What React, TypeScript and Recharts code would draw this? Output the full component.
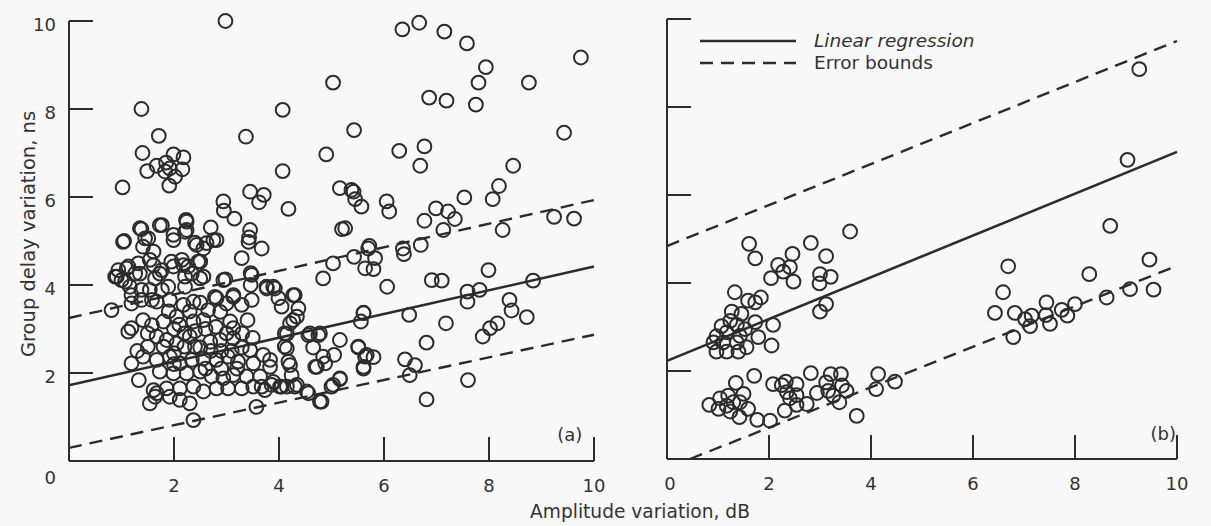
import React from "react";
import {
  ScatterChart,
  Scatter,
  XAxis,
  YAxis,
  ReferenceLine,
  ReferenceDot,
  Legend,
} from "recharts";

const FONT = '"DejaVu Sans", "Liberation Sans", Arial, sans-serif';
const INK = "#2c2c2c";
const TEXT = "#333";
const BG = "#f8f8f8";

const axisTicks = [0, 2, 4, 6, 8, 10];

// (a) all measurements: [amplitude dB, group delay ns]
const pointsA: [number, number][] = [
  [2.98, 10.0], [5.03, 8.6], [1.38, 8.0], [4.07, 7.98], [1.71, 7.39], [3.37, 7.37], [4.9, 6.97], [1.4, 7.0],
  [1.99, 6.97], [2.18, 6.9], [1.85, 6.78], [1.67, 6.71], [1.49, 6.59], [1.83, 6.58], [2.16, 6.63], [2.02, 6.46], [1.91, 6.26], [1.92, 6.65],
  [1.02, 6.22], [4.07, 6.59], [3.45, 6.12], [3.71, 6.05], [3.62, 5.88], [4.18, 5.73], [5.16, 6.2], [2.94, 5.9], [2.95, 5.69], [3.15, 5.51], [5.2, 5.27],
  [1.38, 5.27], [1.73, 5.36], [2.23, 5.48], [2.24, 5.25], [1.99, 5.14], [2.7, 5.31], [2.75, 5.02], [2.4, 4.96], [3.45, 5.25], [3.43, 5.08], [1.05, 5.0], [1.51, 5.06], [3.67, 4.83],
  [6.35, 9.81], [6.67, 9.96], [7.15, 9.76], [7.58, 9.49], [9.75, 9.17], [7.94, 8.95], [7.8, 8.6], [8.76, 8.6], [6.86, 8.26], [7.19, 8.19], [7.75, 8.1],
  [5.43, 7.52], [9.43, 7.46], [6.29, 7.05], [6.77, 7.15], [6.69, 6.71], [8.46, 6.71],
  [5.38, 6.16], [5.45, 5.95], [5.57, 5.78], [6.05, 5.9], [6.1, 5.67], [8.19, 6.25], [8.07, 5.95], [7.53, 5.99], [6.99, 5.74], [7.22, 5.67], [7.35, 5.5],
  [6.77, 5.46], [7.13, 5.25], [8.26, 5.25], [9.24, 5.55], [9.62, 5.51], [5.72, 4.89], [6.7, 4.91], [6.36, 4.83],
  [5.03, 4.49], [5.43, 4.64], [5.83, 4.61], [5.64, 4.38], [5.8, 4.36], [6.38, 4.7], [6.06, 3.96], [6.91, 4.11], [7.1, 4.1], [7.99, 4.34], [8.84, 4.1],
  [7.59, 3.85], [7.59, 3.62], [7.82, 3.89], [8.39, 3.66], [8.43, 3.42], [8.72, 3.27], [7.88, 2.83], [8.02, 3.02], [8.16, 3.13], [6.48, 3.32], [7.18, 3.13],
  [5.61, 3.37], [5.56, 3.17], [6.81, 2.69], [5.16, 2.75], [5.51, 2.58], [5.67, 2.41], [5.8, 2.36], [5.61, 2.14], [5.05, 2.41], [6.4, 2.31], [6.59, 2.18],
  [6.49, 1.95], [7.6, 1.84], [6.81, 1.4], [5.16, 1.86], [5.03, 1.73],
  [4.84, 4.15], [4.3, 3.77], [4.37, 3.47], [4.27, 3.2], [4.15, 2.89], [4.15, 2.56], [4.56, 2.86], [4.75, 2.86], [4.65, 2.58], [4.84, 2.37], [4.72, 2.14],
  [4.21, 2.18], [4.81, 1.35], [4.56, 1.54], [4.3, 1.69], [4.15, 1.69], [3.57, 1.23], [2.37, 0.93], [0.81, 3.43],
  [2.94, 4.11], [3.46, 4.27], [3.29, 4.61], [1.19, 2.22], [1.33, 1.84], [1.54, 1.31], [1.67, 1.54], [3.89, 3.96], [3.77, 3.92], [3.99, 3.7],
  [1.35, 5.29], [1.45, 5.06], [1.77, 5.36], [1.41, 4.87], [1.61, 4.76], [2.24, 5.44], [2.21, 5.21],
  [0.94, 4.34], [0.91, 4.19], [1.13, 4.42], [1.26, 4.26], [1.07, 4.08], [1.32, 4.49], [1.54, 4.57], [1.77, 4.34], [1.95, 4.53], [2.15, 4.57],
  [1.64, 4.15], [1.89, 3.96], [1.38, 3.89], [1.19, 3.77], [1.58, 3.66], [2.21, 4.19], [2.27, 4.42],
  [2.43, 4.91], [2.56, 4.83], [2.46, 4.53], [2.56, 4.19], [2.98, 4.13], [3.48, 4.23], [3.46, 4.0], [3.76, 3.96], [3.92, 3.92], [4.27, 3.77],
  [3.48, 3.66], [3.13, 3.73], [2.78, 3.73], [3.0, 3.58],
  [5.42, 6.12], [5.26, 5.29], [5.7, 4.83], [5.61, 3.36], [4.59, 2.9], [4.78, 2.9], [4.88, 2.22], [4.69, 2.14], [5.51, 2.6], [5.64, 2.37], [5.61, 2.1],
  [5.0, 1.69], [4.53, 1.58], [4.78, 1.35], [5.16, 1.88],
  [1.03, 4.98], [1.99, 5.02], [2.62, 4.95], [2.81, 5.02], [3.42, 4.98],
  [0.88, 4.19], [1.1, 4.38], [1.0, 4.11], [1.35, 4.26], [1.61, 4.45], [1.73, 4.26], [1.99, 4.42], [2.18, 4.45], [2.34, 4.26], [2.5, 4.53], [2.21, 3.96],
  [2.5, 4.15], [1.16, 3.96], [1.54, 3.89], [1.77, 3.89],
  [1.19, 3.58], [1.38, 3.66], [1.67, 3.62], [1.92, 3.66], [2.18, 3.55], [2.37, 3.62], [2.81, 3.7], [3.13, 3.77], [3.29, 3.55], [2.65, 3.43], [2.88, 3.39],
  [1.41, 3.2], [1.19, 3.02], [1.13, 2.94], [1.58, 3.09], [1.8, 3.17], [2.05, 3.28], [2.37, 3.17], [2.56, 3.2], [3.07, 3.17], [3.13, 3.02],
  [1.67, 2.83], [1.86, 2.75], [2.05, 2.67], [2.3, 2.83], [2.5, 2.58], [2.69, 2.71], [2.88, 2.75], [3.13, 2.79], [3.29, 2.58], [3.45, 2.52], [3.7, 2.41],
  [1.41, 2.37], [1.67, 2.3], [1.92, 2.37], [2.11, 2.22], [2.34, 2.3], [2.56, 2.33], [2.81, 2.3], [3.03, 2.37], [3.22, 2.26], [3.51, 2.22], [3.83, 2.14],
  [1.73, 2.03], [1.99, 1.99], [2.24, 1.99], [2.5, 2.03], [2.72, 1.92], [2.94, 1.88], [3.13, 1.95], [3.38, 1.92], [3.64, 1.92], [3.89, 1.8], [4.05, 1.69],
  [1.61, 1.61], [1.86, 1.65], [2.11, 1.65], [2.37, 1.69], [2.56, 1.58], [2.81, 1.65], [3.03, 1.65], [3.29, 1.65], [3.51, 1.69], [3.73, 1.61],
  [1.92, 1.46], [2.11, 1.39], [2.3, 1.31], [1.64, 1.46],
  [4.11, 2.9], [4.11, 2.6], [4.05, 3.51], [4.34, 3.28], [4.21, 3.13], [4.18, 2.26], [4.24, 1.95], [4.34, 1.73], [3.83, 2.3], [3.86, 1.73], [3.67, 1.69], [4.02, 1.69],
  [2.0, 3.0], [2.2, 2.9], [2.4, 2.95], [2.6, 3.0], [2.8, 3.05], [3.0, 2.9], [2.3, 3.4], [2.5, 3.6], [1.9, 3.4], [2.1, 3.1], [2.7, 2.5], [2.9, 2.5],
  [3.1, 2.5], [2.4, 2.6], [2.2, 2.6], [2.0, 2.45], [3.3, 2.9], [3.5, 2.8], [3.4, 3.2], [2.6, 2.1], [2.9, 2.1], [3.2, 2.1], [2.0, 2.2], [1.8, 2.6],
  [1.5, 2.6], [1.5, 2.9], [1.3, 2.5],
];

// (b) subset
const pointsB: [number, number][] = [
  [1.61, 4.89], [1.73, 4.56], [2.82, 4.91], [2.46, 4.66], [3.12, 4.61], [2.41, 4.36], [2.18, 4.41], [2.28, 4.26], [2.04, 4.11], [2.48, 4.03], [3.0, 4.2],
  [3.21, 4.14], [2.99, 3.99], [3.12, 3.52], [3.0, 3.35], [1.33, 3.79], [1.59, 3.6], [1.84, 3.67], [1.73, 3.56], [2.08, 3.05], [2.05, 2.58], [1.27, 3.35],
  [1.46, 3.3], [1.73, 3.11], [1.07, 3.02], [1.24, 3.14], [1.37, 3.05], [1.53, 2.95], [0.97, 2.79], [1.17, 2.88], [1.43, 2.8], [1.79, 2.77], [0.91, 2.65],
  [1.1, 2.65], [1.37, 2.65], [1.56, 2.54], [0.97, 2.44], [1.17, 2.44], [1.4, 2.44],
  [6.69, 4.38], [6.59, 3.79], [6.43, 3.32], [6.82, 3.32], [6.79, 2.77], [7.02, 3.18], [7.15, 3.26], [7.12, 3.02], [7.44, 3.56], [7.43, 3.27], [7.51, 3.07],
  [7.74, 3.39], [7.85, 3.26], [8.0, 3.52], [8.28, 4.2], [8.62, 3.67], [9.08, 3.86], [9.46, 4.53], [9.54, 3.85],
  [9.26, 8.86], [9.03, 6.8], [8.69, 5.3], [3.59, 5.17],
  [1.71, 1.89], [1.35, 1.73], [0.83, 1.23], [1.04, 1.38], [1.2, 1.44], [1.01, 1.14], [1.17, 1.21], [1.3, 1.29], [1.5, 1.48], [1.43, 1.29], [1.59, 1.14],
  [1.24, 1.08], [1.42, 0.95], [1.77, 0.89], [2.02, 0.87], [2.08, 1.7], [2.25, 1.68], [2.33, 1.76], [2.54, 1.7], [2.35, 1.52], [2.54, 1.45], [2.41, 1.38],
  [2.74, 1.25], [2.54, 1.23], [2.31, 1.1], [2.82, 1.95], [3.12, 1.74], [3.21, 1.93], [3.41, 1.93], [2.94, 1.5], [3.16, 1.55], [3.43, 1.67], [3.52, 1.55],
  [3.26, 1.44], [3.38, 1.29], [3.72, 0.98], [4.14, 1.93], [4.1, 1.59], [4.47, 1.76],
];

// regression + error bounds (end points)
const fitA = [{ x: 0, y: 1.72 }, { x: 10, y: 4.42 }];
const upperA = [{ x: 0, y: 3.25 }, { x: 10, y: 5.93 }];
const lowerA = [{ x: 0, y: 0.3 }, { x: 10, y: 2.87 }];
const fitB = [{ x: 0, y: 2.23 }, { x: 10, y: 6.98 }];
const upperB = [{ x: 0, y: 4.84 }, { x: 10, y: 9.5 }];
const lowerB = [{ x: 0.45, y: 0 }, { x: 10, y: 4.39 }];

const toXY = (pts: [number, number][]) => pts.map(([x, y]) => ({ x, y }));
const dataA = toXY(pointsA);
const dataB = toXY(pointsB);

const TICK_LEN = 24;
const DASH = "13 8";

const Ring = (props: any) => {
  const { cx, cy } = props;
  if (cx == null || cy == null) return null;
  return <circle cx={cx} cy={cy} r={6.9} fill="none" stroke={INK} strokeWidth={2} />;
};

const XTick = (props: any) => {
  const { x, y, payload, hideZero, zeroShift } = props;
  const v = payload.value;
  return (
    <g>
      <line x1={x} x2={x} y1={y} y2={y - TICK_LEN} stroke={INK} strokeWidth={2} />
      {!(hideZero && v === 0) && (
        <text
          x={x + (v === 0 ? zeroShift || 0 : 0)}
          y={y + 24}
          textAnchor="middle"
          dominantBaseline="central"
          fontFamily={FONT}
          fontSize={18}
          fill={TEXT}
        >
          {v}
        </text>
      )}
    </g>
  );
};

const YTick = (props: any) => {
  const { x, y, payload, showLabel } = props;
  const v = payload.value;
  return (
    <g>
      <line x1={x} x2={x + TICK_LEN} y1={y} y2={y} stroke={INK} strokeWidth={2} />
      {showLabel && (
        <text
          x={x - 13}
          y={y + (v === 0 ? 16 : 3)}
          textAnchor="end"
          dominantBaseline="central"
          fontFamily={FONT}
          fontSize={18}
          fill={TEXT}
        >
          {v}
        </text>
      )}
    </g>
  );
};

const LegendBox = () => (
  <div style={{ fontFamily: FONT, fontSize: 18.5, color: TEXT, lineHeight: "22px" }}>
    <div style={{ display: "flex", alignItems: "center" }}>
      <svg width={96} height={6}>
        <line x1={0} x2={96} y1={3} y2={3} stroke={INK} strokeWidth={2.6} />
      </svg>
      <span style={{ marginLeft: 18, fontStyle: "italic" }}>Linear regression</span>
    </div>
    <div style={{ display: "flex", alignItems: "center" }}>
      <svg width={96} height={6}>
        <line x1={0} x2={96} y1={3} y2={3} stroke={INK} strokeWidth={2.4} strokeDasharray={DASH} />
      </svg>
      <span style={{ marginLeft: 18 }}>Error bounds</span>
    </div>
  </div>
);

const axisLine = { stroke: INK, strokeWidth: 2 };

export default function App() {
  return (
    <div
      style={{
        position: "fixed",
        left: 0,
        top: 0,
        width: 1211,
        height: 526,
        background: BG,
        overflow: "hidden",
      }}
    >
      <div style={{ position: "absolute", left: 0, top: 0 }}>
        <ScatterChart width={610} height={526} margin={{ top: 21, right: 16, bottom: 25, left: 0 }}>
          <XAxis
            type="number"
            dataKey="x"
            domain={[0, 10]}
            ticks={axisTicks}
            interval={0}
            height={40}
            tickSize={0}
            tickMargin={0}
            tickLine={false}
            axisLine={axisLine}
            tick={(p: any) => <XTick {...p} hideZero />}
          />
          <YAxis
            type="number"
            dataKey="y"
            domain={[0, 10]}
            ticks={axisTicks}
            interval={0}
            width={69}
            tickSize={0}
            tickMargin={0}
            tickLine={false}
            axisLine={axisLine}
            tick={(p: any) => <YTick {...p} showLabel />}
          />
          <ReferenceLine segment={upperA} stroke={INK} strokeWidth={2.4} strokeDasharray={DASH} />
          <ReferenceLine segment={fitA} stroke={INK} strokeWidth={2.6} />
          <ReferenceLine segment={lowerA} stroke={INK} strokeWidth={2.4} strokeDasharray={DASH} />
          <Scatter data={dataA} shape={Ring} isAnimationActive={false} />
          <ReferenceDot
            x={9.54}
            y={0.61}
            r={0}
            fill="none"
            stroke="none"
            label={{ value: "(a)", position: "center", fill: TEXT, fontSize: 18, fontFamily: FONT }}
          />
        </ScatterChart>
      </div>

      <div style={{ position: "absolute", left: 610, top: 0 }}>
        <ScatterChart width={601} height={526} margin={{ top: 19, right: 34, bottom: 27, left: 0 }}>
          <XAxis
            type="number"
            dataKey="x"
            domain={[0, 10]}
            ticks={axisTicks}
            interval={0}
            height={40}
            tickSize={0}
            tickMargin={0}
            tickLine={false}
            axisLine={axisLine}
            tick={(p: any) => <XTick {...p} zeroShift={3} />}
          />
          <YAxis
            type="number"
            dataKey="y"
            domain={[0, 10]}
            ticks={axisTicks}
            interval={0}
            width={57}
            tickSize={0}
            tickMargin={0}
            tickLine={false}
            axisLine={axisLine}
            tick={(p: any) => <YTick {...p} showLabel={false} />}
          />
          <Legend
            layout="horizontal"
            verticalAlign="middle"
            align="center"
            content={<LegendBox />}
            wrapperStyle={{ left: 90, top: 30, width: 320 }}
          />
          <ReferenceLine segment={upperB} stroke={INK} strokeWidth={2.4} strokeDasharray={DASH} />
          <ReferenceLine segment={fitB} stroke={INK} strokeWidth={2.6} />
          <ReferenceLine segment={lowerB} stroke={INK} strokeWidth={2.4} strokeDasharray={DASH} />
          <Scatter data={dataB} shape={Ring} isAnimationActive={false} />
          <ReferenceDot
            x={9.73}
            y={0.57}
            r={0}
            fill="none"
            stroke="none"
            label={{ value: "(b)", position: "center", fill: TEXT, fontSize: 18, fontFamily: FONT }}
          />
        </ScatterChart>
      </div>

      <div
        style={{
          position: "absolute",
          left: 28,
          top: 234,
          transform: "translate(-50%, -50%) rotate(-90deg)",
          whiteSpace: "nowrap",
          fontFamily: FONT,
          fontSize: 19.5,
          color: TEXT,
        }}
      >
        Group delay variation, ns
      </div>
      <div
        style={{
          position: "absolute",
          left: 640,
          top: 511,
          transform: "translate(-50%, -50%)",
          whiteSpace: "nowrap",
          fontFamily: FONT,
          fontSize: 18.6,
          color: TEXT,
        }}
      >
        Amplitude variation, dB
      </div>
    </div>
  );
}
